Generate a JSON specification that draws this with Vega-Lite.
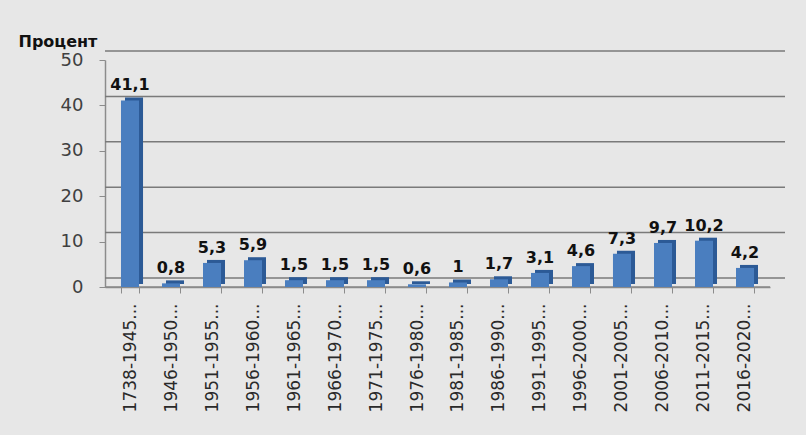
{
  "$schema": "https://vega.github.io/schema/vega-lite/v6.json",
  "width": 665,
  "height": 227,
  "autosize": {"type": "none"},
  "padding": {"left": 105, "top": 60, "right": 36, "bottom": 148},
  "background": "#e7e7e7",
  "config": {
    "view": {"stroke": null},
    "font": "DejaVu Sans",
    "locale": {"number": {"decimal": ",", "thousands": " ", "grouping": [3], "currency": ["", ""]}}
  },
  "datasets": {
    "bars": [
      {"period": "1738-1945", "value": 41.1},
      {"period": "1946-1950", "value": 0.8},
      {"period": "1951-1955", "value": 5.3},
      {"period": "1956-1960", "value": 5.9},
      {"period": "1961-1965", "value": 1.5},
      {"period": "1966-1970", "value": 1.5},
      {"period": "1971-1975", "value": 1.5},
      {"period": "1976-1980", "value": 0.6},
      {"period": "1981-1985", "value": 1},
      {"period": "1986-1990", "value": 1.7},
      {"period": "1991-1995", "value": 3.1},
      {"period": "1996-2000", "value": 4.6},
      {"period": "2001-2005", "value": 7.3},
      {"period": "2006-2010", "value": 9.7},
      {"period": "2011-2015", "value": 10.2},
      {"period": "2016-2020", "value": 4.2}
    ],
    "grid": [{"v": 0}, {"v": 10}, {"v": 20}, {"v": 30}, {"v": 40}, {"v": 50}]
  },
  "layer": [
    {
      "data": {"name": "grid"},
      "mark": {"type": "rule", "color": "#7a7a7a", "strokeWidth": 1.5, "xOffset": 15, "yOffset": -9},
      "encoding": {
        "y": {
          "field": "v", "type": "quantitative", "scale": {"domain": [0, 50], "nice": false},
          "axis": {
            "values": [0, 10, 20, 30, 40, 50], "grid": false, "domainColor": "#8c8c8c", "domainWidth": 1.5,
            "tickColor": "#8c8c8c", "tickSize": 6, "labelFontSize": 18, "labelColor": "#404040", "labelPadding": 16,
            "title": "Процент", "titleAngle": 0, "titleX": -87, "titleY": -14, "titleAlign": "left",
            "titleBaseline": "alphabetic", "titleFontSize": 16, "titleFontWeight": "bold", "titleColor": "#111111"
          }
        }
      }
    },
    {
      "data": {"name": "grid"},
      "transform": [{"filter": "datum.v == 0"}],
      "mark": {"type": "rule", "color": "#8a8a8a", "strokeWidth": 1.5},
      "encoding": {
        "y": {"field": "v", "type": "quantitative"}
      }
    },
    {
      "data": {"name": "bars"},
      "mark": {"type": "bar", "color": "#2c5a96", "xOffset": 4, "yOffset": -3},
      "encoding": {
        "x": {
          "field": "period", "type": "nominal", "sort": null, "scale": {"paddingInner": 0.56, "paddingOuter": 0.39},
          "axis": {
            "title": null, "labelAngle": -90, "labelFontSize": 17, "labelColor": "#2a2a2a",
            "labelPadding": 10, "tickBand": "extent", "tickColor": "#8c8c8c", "tickSize": 6,
            "domainColor": "#8c8c8c", "domainWidth": 1.5,
            "labelExpr": "datum.label ? datum.label + '...' : ''"
          }
        },
        "y": {"field": "value", "type": "quantitative"}
      }
    },
    {
      "data": {"name": "bars"},
      "mark": {"type": "bar", "color": "#4a7ebf"},
      "encoding": {
        "x": {"field": "period", "type": "nominal", "sort": null},
        "y": {"field": "value", "type": "quantitative"}
      }
    },
    {
      "data": {"name": "bars"},
      "mark": {"type": "text", "baseline": "bottom", "dy": -7, "fontSize": 16, "fontWeight": "bold", "color": "#111111"},
      "encoding": {
        "x": {"field": "period", "type": "nominal", "sort": null},
        "y": {"field": "value", "type": "quantitative"},
        "text": {"field": "value", "type": "quantitative", "format": ".1~f"}
      }
    }
  ]
}
